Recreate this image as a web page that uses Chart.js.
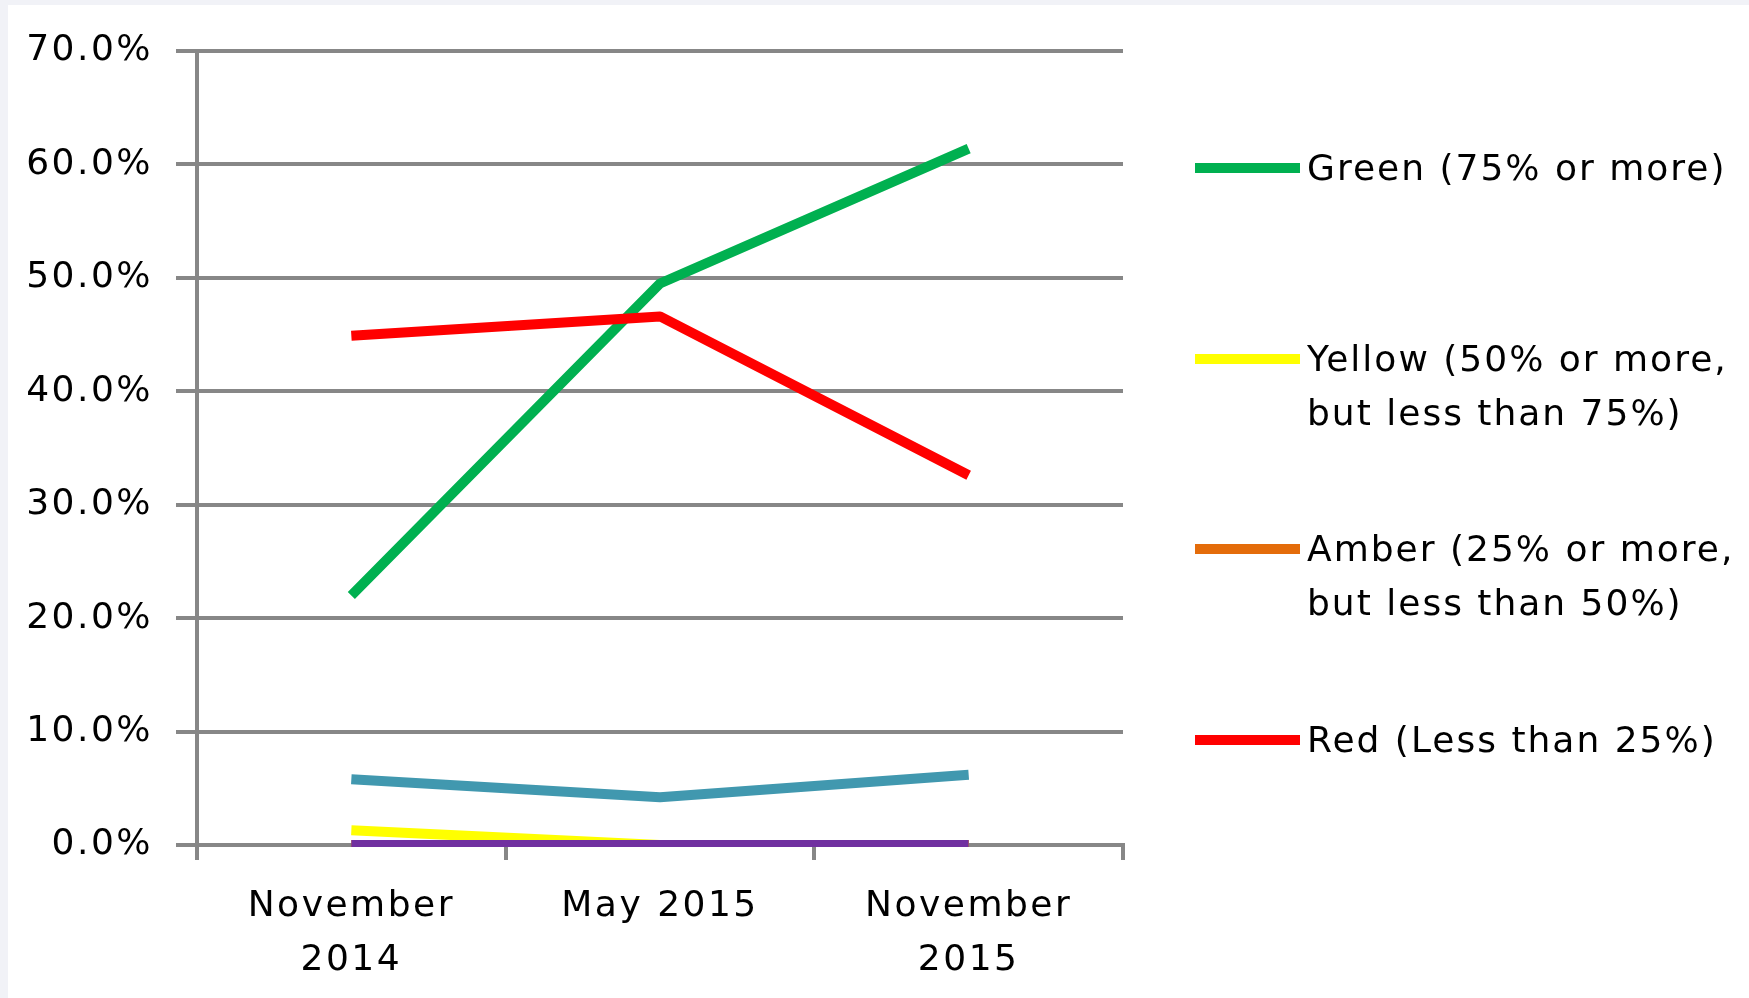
<!DOCTYPE html>
<html>
<head>
<meta charset="utf-8">
<script src="https://cdn.jsdelivr.net/npm/chart.js@4.4.1/dist/chart.umd.min.js"></script>
<style>
html,body{margin:0;padding:0;background:#f1f2f7;width:1749px;height:998px;overflow:hidden;}
#paper{position:absolute;left:8px;top:5px;width:1741px;height:993px;background:#ffffff;}
#c{position:absolute;left:0;top:0;}
#legend{position:absolute;left:0;top:0;font-family:"DejaVu Sans";font-size:36px;letter-spacing:2px;color:#000;}
.item{position:absolute;left:1195px;}
.swatch{position:absolute;left:0;top:22px;width:105px;height:10px;}
.text{position:absolute;left:112px;top:0;white-space:pre;line-height:54px;}
</style>
</head>
<body>
<div id="paper"></div>
<canvas id="c" width="1749" height="998"></canvas>
<div id="legend"></div>
<script>
// ---- data ----
const categories = [['November', '2014'], ['May 2015'], ['November', '2015']];
const yTickLabels = ['0.0%', '10.0%', '20.0%', '30.0%', '40.0%', '50.0%', '60.0%', '70.0%'];
const seriesNames = [
  'Green (75% or more)',
  'Yellow (50% or more,\nbut less than 75%)',
  'Amber (25% or more,\nbut less than 50%)',
  'Red (Less than 25%)',
  'Series 5',
  'Series 6'
];
const showInLegend = [true, true, true, true, false, false];
const greenValues  = [22.0, 49.5, 61.4];
const yellowValues = [1.3, 0.0, 0.0];
const amberValues  = [0.0, 0.0, 0.0];
const redValues    = [44.9, 46.6, 32.6];
const series5Values = [5.8, 4.2, 6.2];
const series6Values = [0.0, 0.0, 0.0];

// ---- styles ----
const seriesColors = ['#00b050', '#ffff00', '#e46c0a', '#ff0000', '#4198af', '#7030a0'];
const drawOrder = [6, 5, 4, 3, 2, 1];
const allValues = [greenValues, yellowValues, amberValues, redValues, series5Values, series6Values];
const gridColor = '#878787';
const FONT = 'DejaVu Sans';

const datasets = allValues.map((vals, i) => ({
  label: seriesNames[i],
  data: vals,
  borderColor: seriesColors[i],
  backgroundColor: seriesColors[i],
  borderWidth: 10,
  pointRadius: 0,
  pointHoverRadius: 0,
  tension: 0,
  fill: false,
  clip: 2,
  borderJoinStyle: 'round',
  borderCapStyle: 'butt',
  order: drawOrder[i]
}));

const spacingPlugin = {
  id: 'spacing',
  beforeUpdate(chart) { chart.ctx.letterSpacing = '2.5px'; },
  beforeDraw(chart) { chart.ctx.letterSpacing = '2.5px'; }
};

new Chart(document.getElementById('c'), {
  type: 'line',
  data: { labels: categories, datasets },
  plugins: [spacingPlugin],
  options: {
    responsive: false,
    animation: false,
    devicePixelRatio: 1,
    layout: { padding: { top: 51, right: 626, left: 0, bottom: 0 } },
    plugins: { legend: { display: false }, tooltip: { enabled: false } },
    scales: {
      x: {
        type: 'category',
        offset: true,
        grid: {
          offset: true,
          drawOnChartArea: false,
          drawTicks: true,
          tickLength: 15,
          color: gridColor,
          lineWidth: 4
        },
        border: { display: true, color: gridColor, width: 4 },
        ticks: {
          color: '#000',
          padding: 20,
          maxRotation: 0,
          autoSkip: false,
          font: { family: FONT, size: 36, lineHeight: 1.5 }
        },
        afterFit(scale) { scale.height = 153; }
      },
      y: {
        min: 0,
        max: 70,
        ticks: {
          stepSize: 10,
          color: '#000',
          padding: 23,
          font: { family: FONT, size: 36 },
          callback: (v, i) => yTickLabels[i]
        },
        grid: {
          color: gridColor,
          lineWidth: 4,
          drawTicks: true,
          tickLength: 21
        },
        border: { display: true, color: gridColor, width: 4 },
        afterFit(scale) { scale.width = 197; }
      }
    }
  }
});

// ---- legend (HTML) ----
const legend = document.getElementById('legend');
let k = 0;
seriesNames.forEach((name, i) => {
  if (!showInLegend[i]) return;
  const item = document.createElement('div');
  item.className = 'item';
  item.style.top = (141 + k * 190.7) + 'px';
  const sw = document.createElement('div');
  sw.className = 'swatch';
  sw.style.background = seriesColors[i];
  const tx = document.createElement('div');
  tx.className = 'text';
  tx.textContent = name;
  item.appendChild(sw);
  item.appendChild(tx);
  legend.appendChild(item);
  k++;
});
</script>
</body>
</html>
